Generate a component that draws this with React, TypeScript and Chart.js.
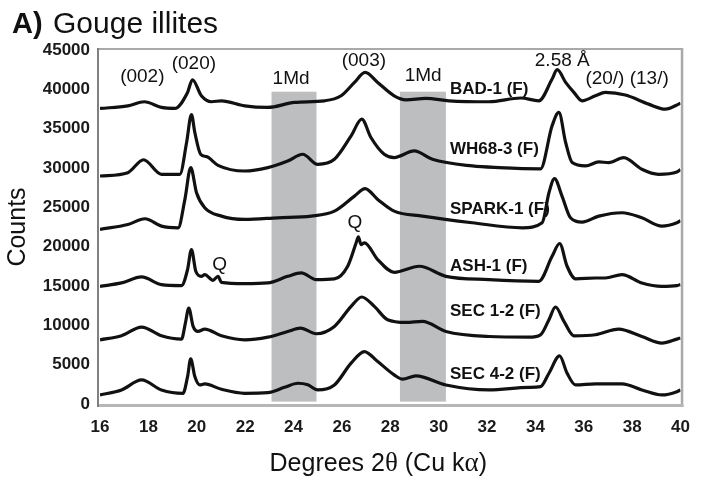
import { useEffect, useRef } from "react";
import { Chart, registerables } from "chart.js";

Chart.register(...registerables);

const SANS = '"Liberation Sans", Arial, Helvetica, sans-serif';
const SERIF = '"Liberation Serif", "Times New Roman", serif';

// X-ray diffraction traces: [2θ in degrees, counts], stacked with vertical offsets
const sampleNames = ["BAD-1 (F)", "WH68-3 (F)", "SPARK-1 (F)", "ASH-1 (F)", "SEC 1-2 (F)", "SEC 4-2 (F)"];

const bad1: [number, number][] = [
  [16.0, 37570], [17.15, 37900], [17.83, 38420], [18.54, 37700], [19.09, 37570], [19.62, 39610],
  [19.82, 41220], [20.19, 39180], [20.61, 38420], [21.02, 38540], [21.98, 37900], [22.93, 37700],
  [24.04, 38340], [25.28, 38540], [25.97, 39180], [26.52, 40880], [26.96, 42160], [27.48, 40880],
  [28.16, 39180], [28.65, 38670], [29.47, 38850], [30.43, 38540], [32.08, 38420], [33.4, 38900],
  [34.14, 38540], [34.69, 41310], [34.9, 42500], [35.25, 40880], [35.59, 39610], [35.93, 38540],
  [36.48, 39180], [36.89, 39610], [37.72, 39270], [38.68, 38120], [39.37, 37480], [39.92, 38120],
  [40.0, 38250],
];

const wh683: [number, number][] = [
  [16.0, 28980], [17.15, 29410], [17.8, 31050], [18.54, 29200], [19.3, 29200], [19.58, 33240],
  [19.78, 36800], [19.92, 34510], [20.16, 31750], [20.4, 31450], [20.88, 30340], [21.98, 29620],
  [22.94, 30050], [23.76, 30890], [24.38, 31750], [25.0, 30470], [25.69, 31110], [26.38, 34080],
  [26.82, 36210], [27.2, 33880], [27.75, 31750], [28.16, 31330], [28.99, 32170], [29.74, 31110],
  [31.39, 30260], [32.5, 30050], [34.21, 29900], [34.69, 35360], [34.97, 37060], [35.25, 33240],
  [35.52, 30690], [36.07, 30260], [36.62, 30770], [37.03, 30690], [37.65, 31330], [38.4, 29840],
  [39.09, 29200], [39.85, 29500], [40.0, 29800],
];

const spark1: [number, number][] = [
  [16.0, 22190], [17.15, 22820], [17.86, 23550], [18.54, 22610], [19.23, 22400], [19.51, 26010],
  [19.75, 30050], [19.99, 26860], [20.33, 24950], [21.02, 23880], [21.98, 23460], [23.35, 23670],
  [24.73, 23880], [25.69, 24520], [26.52, 26430], [26.96, 27370], [27.48, 26010], [28.16, 24520],
  [29.33, 23880], [31.39, 23040], [33.46, 22400], [34.28, 23040], [34.56, 26860], [34.79, 28650],
  [35.1, 26430], [35.45, 23670], [35.93, 23120], [36.62, 23880], [37.58, 24310], [38.4, 23670],
  [39.23, 22610], [39.85, 23040], [40.0, 23300],
];

const ash1: [number, number][] = [
  [16.0, 14960], [16.89, 15390], [17.72, 16150], [18.54, 15170], [19.37, 15050], [19.62, 17090],
  [19.78, 19640], [19.96, 16870], [20.19, 16230], [20.33, 16450], [20.67, 15720], [20.88, 16230],
  [21.02, 15470], [21.98, 15300], [22.94, 15390], [23.76, 16230], [24.32, 16660], [24.94, 15810],
  [25.69, 15900], [26.24, 17510], [26.59, 20490], [26.68, 21250], [26.79, 20270], [26.93, 20490],
  [27.48, 18360], [28.16, 16740], [29.2, 17510], [30.3, 16230], [32.08, 15810], [34.14, 15600],
  [34.69, 18780], [35.0, 20400], [35.31, 17510], [35.66, 15900], [36.48, 16020], [36.89, 16020],
  [37.58, 16450], [38.4, 15390], [39.23, 14960], [39.85, 15050], [40.0, 15200],
];

const sec12: [number, number][] = [
  [16.0, 8160], [16.89, 8670], [17.72, 9780], [18.54, 8670], [19.37, 8250], [19.53, 10290],
  [19.67, 12200], [19.85, 9860], [20.05, 9220], [20.33, 9520], [21.02, 8670], [21.98, 8160],
  [22.94, 8500], [23.76, 9220], [24.29, 9650], [24.94, 8930], [25.69, 9860], [26.38, 12410],
  [26.82, 13600], [27.34, 12410], [27.89, 10710], [28.65, 10370], [29.33, 10500], [30.3, 9220],
  [32.08, 8580], [33.73, 8500], [34.21, 8800], [34.56, 10710], [34.83, 12330], [35.18, 10500],
  [35.59, 8670], [36.48, 8800], [37.44, 9520], [38.4, 8580], [39.23, 7740], [39.85, 8250],
  [40.0, 8400],
];

const sec42: [number, number][] = [
  [16.0, 1150], [16.89, 1790], [17.72, 3060], [18.54, 1790], [19.43, 1360], [19.62, 3480],
  [19.75, 5750], [19.92, 3480], [20.12, 2420], [20.33, 2550], [21.02, 1870], [21.98, 1360],
  [22.94, 1440], [23.63, 2120], [24.18, 2640], [24.59, 2450], [25.0, 1790], [25.69, 2420],
  [26.38, 5190], [26.93, 6670], [27.48, 5400], [28.16, 3700], [28.51, 3150], [29.06, 3570],
  [30.3, 2420], [32.08, 1790], [33.73, 2120], [34.21, 2200], [34.56, 3910], [35.0, 6120],
  [35.31, 3910], [35.66, 2420], [36.48, 2550], [37.58, 2550], [38.4, 1790], [39.23, 1150],
  [39.85, 1570], [40.0, 1800],
];

const traces = [bad1, wh683, spark1, ash1, sec12, sec42];

// Sample name labels, placed in data units
const sampleLabelAngle = 30.47;
const sampleLabelCounts = [40040, 32410, 24780, 17540, 11760, 3810];

// Reflection labels
const peakLabels = ["(002)", "(020)", "1Md", "(003)", "1Md", "2.58 Å", "(20/) (13/)", "Q", "Q"];
const peakLabelAngles = [17.75, 19.88, 23.9, 26.91, 29.36, 35.11, 37.79, 20.95, 26.54];
const peakLabelCounts = [41620, 43280, 41300, 43660, 41690, 43600, 41300, 17720, 23010];

// 1Md reflection windows
const bandStart = [23.09, 28.4];
const bandEnd = [24.95, 30.3];
const bandTop = 39700;
const bandFloor = 300;

const xMin = 16;
const xMax = 40;
const xStep = 2;
const yMin = 0;
const yMax = 45000;
const yStep = 5000;

const decorations = {
  id: "decorations",
  beforeDatasetsDraw(chart: any) {
    const { ctx, scales } = chart;
    const x = scales.x;
    const y = scales.y;
    ctx.save();
    ctx.fillStyle = "#bdbec0";
    bandStart.forEach((s, i) => {
      const x0 = x.getPixelForValue(s);
      const x1 = x.getPixelForValue(bandEnd[i]);
      const y0 = y.getPixelForValue(bandTop);
      const y1 = y.getPixelForValue(bandFloor);
      ctx.fillRect(x0, y0, x1 - x0, y1 - y0);
    });
    ctx.restore();
  },
  afterDatasetsDraw(chart: any) {
    const { ctx, chartArea, scales } = chart;
    const x = scales.x;
    const y = scales.y;
    const { left, right, top, bottom } = chartArea;
    ctx.save();

    // plot frame
    ctx.lineCap = "butt";
    ctx.strokeStyle = "#a9a9a9";
    ctx.lineWidth = 2;
    ctx.beginPath();
    ctx.moveTo(left - 3, top - 1);
    ctx.lineTo(right + 2, top - 1);
    ctx.stroke();
    ctx.lineWidth = 2.5;
    ctx.beginPath();
    ctx.moveTo(right + 1.5, top - 2);
    ctx.lineTo(right + 1.5, bottom + 3);
    ctx.stroke();
    ctx.strokeStyle = "#b6b6b6";
    ctx.lineWidth = 3;
    ctx.beginPath();
    ctx.moveTo(left - 3, bottom + 1.5);
    ctx.lineTo(right + 3, bottom + 1.5);
    ctx.stroke();
    ctx.strokeStyle = "#808080";
    ctx.lineWidth = 2;
    ctx.beginPath();
    ctx.moveTo(left - 2, top - 2);
    ctx.lineTo(left - 2, bottom + 3);
    ctx.stroke();

    // sample names
    ctx.fillStyle = "#111";
    ctx.textBaseline = "middle";
    ctx.textAlign = "left";
    ctx.font = `bold 17px ${SANS}`;
    sampleNames.forEach((name, i) => {
      ctx.fillText(name, x.getPixelForValue(sampleLabelAngle), y.getPixelForValue(sampleLabelCounts[i]));
    });

    // reflection labels
    ctx.textAlign = "center";
    ctx.font = `19px ${SANS}`;
    peakLabels.forEach((t, i) => {
      ctx.fillText(t, x.getPixelForValue(peakLabelAngles[i]), y.getPixelForValue(peakLabelCounts[i]));
    });

    // panel title
    ctx.textAlign = "left";
    ctx.textBaseline = "alphabetic";
    ctx.font = `bold 29px ${SANS}`;
    ctx.fillText("A)", 12, 33);
    ctx.font = `30px ${SANS}`;
    ctx.fillText("Gouge illites", 53, 33);

    // y-axis title
    ctx.save();
    ctx.translate(18, (top + bottom) / 2);
    ctx.rotate(-Math.PI / 2);
    ctx.textAlign = "center";
    ctx.textBaseline = "middle";
    ctx.font = `25px ${SANS}`;
    ctx.fillText("Counts", 0, 0);
    ctx.restore();

    // x-axis title with Greek symbols in a serif face
    const parts: [string, string][] = [
      ["Degrees 2", SANS],
      ["\u03b8", SERIF],
      [" (Cu k", SANS],
      ["\u03b1", SERIF],
      [")", SANS],
    ];
    const size = 25;
    let total = 0;
    const widths = parts.map(([t, f]) => {
      ctx.font = `${f === SERIF ? size + 2 : size}px ${f}`;
      const w = ctx.measureText(t).width;
      total += w;
      return w;
    });
    let cx = (left + right) / 2 - total / 2 - 12;
    ctx.textAlign = "left";
    ctx.textBaseline = "alphabetic";
    parts.forEach(([t, f], i) => {
      ctx.font = `${f === SERIF ? size + 2 : size}px ${f}`;
      ctx.fillText(t, cx, 471);
      cx += widths[i];
    });

    ctx.restore();
  },
};

export default function App() {
  const canvasRef = useRef<HTMLCanvasElement | null>(null);

  useEffect(() => {
    const canvas = canvasRef.current;
    if (!canvas) return;
    const chart = new Chart(canvas, {
      type: "line",
      data: {
        datasets: traces.map((pts, i) => ({
          label: sampleNames[i],
          data: pts.map(([a, c]) => ({ x: a, y: c })),
          borderColor: "#111111",
          borderWidth: 3.2,
          pointRadius: 0,
          cubicInterpolationMode: "monotone" as const,
          fill: false,
        })),
      },
      options: {
        responsive: false,
        animation: false,
        devicePixelRatio: 1,
        layout: { padding: { left: 0, right: 21, top: 50, bottom: 0 } },
        plugins: {
          legend: { display: false },
          tooltip: { enabled: false },
          title: { display: false },
        },
        scales: {
          x: {
            type: "linear",
            min: xMin,
            max: xMax,
            grid: { display: false, drawTicks: false },
            border: { display: false },
            ticks: {
              stepSize: xStep,
              padding: 13,
              color: "#1a1a1a",
              font: { family: SANS, size: 17, weight: "bold" },
              maxRotation: 0,
              callback: (v: any) => String(v),
            },
            afterFit: (scale: any) => {
              scale.height = 74;
            },
          },
          y: {
            min: yMin,
            max: yMax,
            grid: { display: false, drawTicks: false },
            border: { display: false },
            ticks: {
              stepSize: yStep,
              padding: 10,
              color: "#1a1a1a",
              font: { family: SANS, size: 17, weight: "bold" },
              callback: (v: any) => String(v),
            },
            afterFit: (scale: any) => {
              scale.width = 100;
            },
          },
        },
      },
      plugins: [decorations],
    });
    return () => chart.destroy();
  }, []);

  return (
    <div style={{ position: "absolute", left: 0, top: 0, width: 703, height: 478, background: "#fff" }}>
      <canvas ref={canvasRef} width={703} height={478} />
    </div>
  );
}
